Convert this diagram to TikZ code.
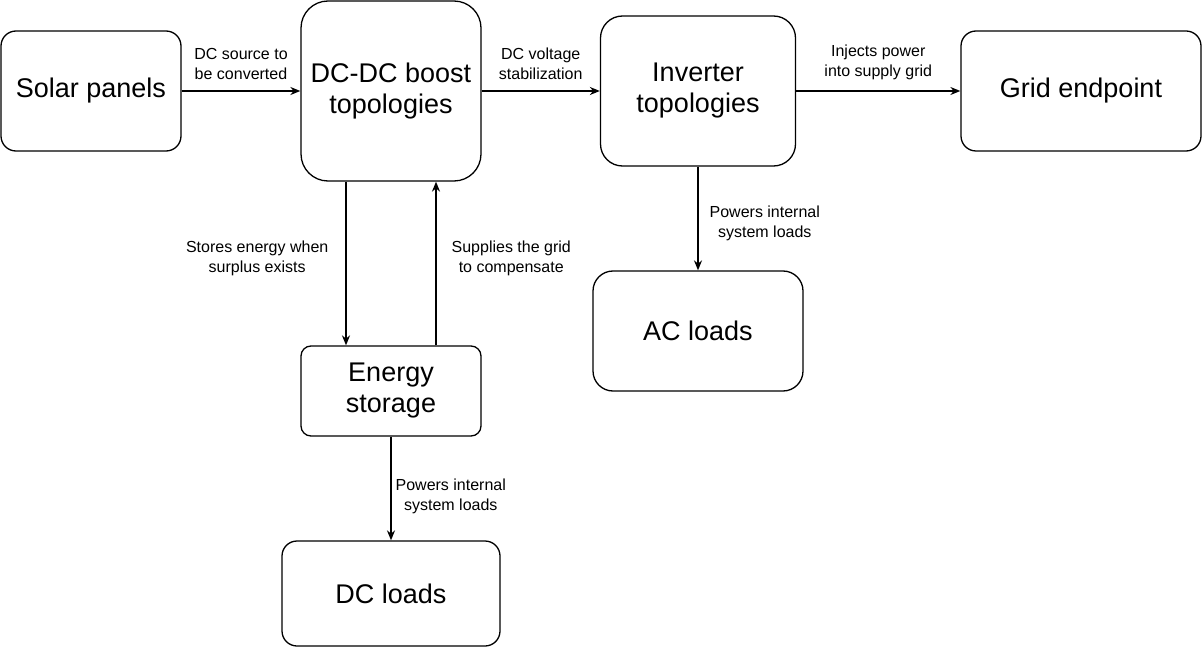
\documentclass[tikz,border=0pt]{standalone}
\usepackage{fontspec}
\setmainfont{Liberation Sans}
\usetikzlibrary{arrows.meta}

\begin{document}
\begin{tikzpicture}[x=1pt,y=-1pt,->,>={Stealth[length=10pt,width=8pt]},line width=1.3pt,
    box/.style={draw,align=center,inner sep=0pt,font=\fontsize{27}{31}\selectfont},
    lbl/.style={align=center,inner sep=1pt,font=\fontsize{16}{20}\selectfont}]

\useasboundingbox (0,0) rectangle (1202,647);

\node [box,minimum width=180,minimum height=120,rounded corners=15] (solar) at (91,91) {Solar panels};
\node [box,minimum width=180,minimum height=180,rounded corners=27] (boost) at (391,91) {DC-DC boost\\topologies};
\node [box,minimum width=195,minimum height=150,rounded corners=22] (inv) at (698,91) {Inverter\\topologies};
\node [box,minimum width=240,minimum height=120,rounded corners=15] (grid) at (1081,91) {Grid endpoint};
\node [box,minimum width=210,minimum height=120,rounded corners=20] (ac) at (698,331) {AC loads};
\node [box,minimum width=180,minimum height=90,rounded corners=10] (store) at (391,391) {Energy\\storage};
\node [box,minimum width=218,minimum height=105,rounded corners=15] (dc) at (391,593.5) {DC loads};

\draw (solar) -- node [lbl,above=10pt] {DC source to\\be converted} (boost);
\draw (boost) -- node [lbl,above=10pt] {DC voltage\\stabilization} (inv);
\draw (inv) -- node [lbl,above=10pt] {Injects power\\into supply grid} (grid);
\draw (inv) -- node [lbl,right=10pt,yshift=-5pt] {Powers internal\\system loads} (ac);
\draw ([xshift=-45pt]boost.south) -- node [lbl,left=16pt,yshift=5pt] {Stores energy when\\surplus exists} ([xshift=-45pt]store.north);
\draw ([xshift=45pt]store.north) -- node [lbl,right=14pt,yshift=5pt] {Supplies the grid\\to compensate} ([xshift=45pt]boost.south);
\draw (store) -- node [lbl,right=3pt,yshift=-8pt] {Powers internal\\system loads} (dc);

\end{tikzpicture}
\end{document}
